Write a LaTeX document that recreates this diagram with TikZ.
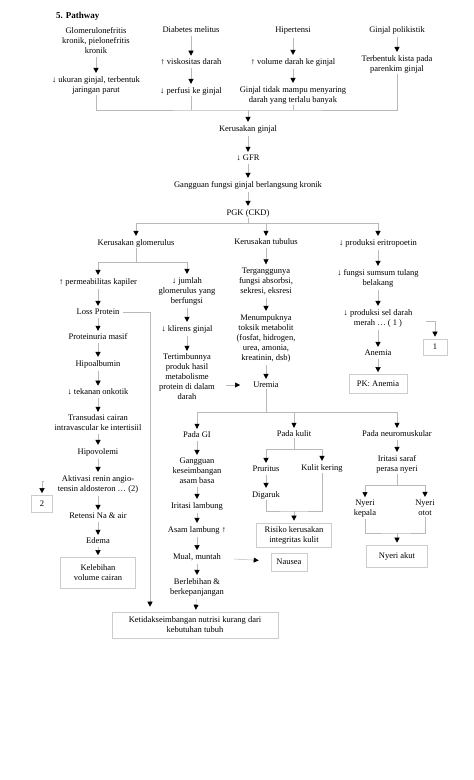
\documentclass[tikz,border=0pt]{standalone}
\usepackage{fontspec}
\setmainfont{Liberation Serif}
\usetikzlibrary{arrows.meta}

\begin{document}
\begin{tikzpicture}[x=1pt,y=-1pt,
  txt/.style={align=center,font=\fontsize{8.5}{10}\selectfont,inner sep=1pt},
  box/.style={txt,draw=gray!40,line width=0.6pt,inner sep=3pt},
  ln/.style={draw=gray!55,line width=0.5pt},
  arr/.style={ln,-{Triangle[length=5pt,width=5pt,color=black]},shorten <=2pt,shorten >=2pt}]
  \useasboundingbox (0,0) rectangle (474,780);
  \node[anchor=west,font=\fontsize{9}{11}\selectfont\bfseries,inner sep=0pt] (title) at (56,16) {5. Pathway};

  % Causes
  \node[txt] (glom) at (96,41) {Glomerulonefritis\\kronik, pielonefritis\\kronik};
  \node[txt] (ukuran) at (96,85) {↓ ukuran ginjal, terbentuk\\jaringan parut};
  \node[txt] (dm) at (191,30) {Diabetes melitus};
  \node[txt] (visk) at (191,62) {↑ viskositas darah};
  \node[txt] (perfusi) at (191,91) {↓ perfusi ke ginjal};
  \node[txt] (ht) at (293,31) {Hipertensi};
  \node[txt] (vol) at (293,62) {↑ volume darah ke ginjal};
  \node[txt] (tidak) at (293,95) {Ginjal tidak mampu menyaring\\darah yang terlalu banyak};
  \node[txt] (pk) at (397,30) {Ginjal polikistik};
  \node[txt] (kista) at (397,64) {Terbentuk kista pada\\parenkim ginjal};
  \coordinate (j1) at (248,110);

  % Main trunk
  \node[txt] (rusak) at (248,129) {Kerusakan ginjal};
  \node[txt] (gfr) at (248,158) {↓ GFR};
  \node[txt] (ggn) at (248,185) {Gangguan fungsi ginjal berlangsung kronik};
  \node[txt] (pgk) at (248,213) {PGK (CKD)};
  \coordinate (j2) at (248,223);
  \node[txt] (glo) at (136,243) {Kerusakan glomerulus};
  \node[txt] (tub) at (266,242) {Kerusakan tubulus};
  \node[txt] (eri) at (378,243) {↓ produksi eritropoetin};

  % Glomerulus
  \coordinate (j3) at (136,262);
  \node[txt] (perm) at (98,282) {↑ permeabilitas kapiler};
  \node[txt] (loss) at (98,312) {Loss Protein};
  \node[txt] (prot) at (98,337) {Proteinuria masif};
  \node[txt] (hipoa) at (98,364) {Hipoalbumin};
  \node[txt] (onk) at (98,392) {↓ tekanan onkotik};
  \node[txt] (trans) at (98,423) {Transudasi cairan\\intravascular ke intertisiil};
  \node[txt] (hipov) at (98,452) {Hipovolemi};
  \node[txt] (akt) at (98,484) {Aktivasi renin angio-\\tensin aldosteron … (2)};
  \node[box,minimum width=21pt,minimum height=17pt] (two) at (42,504) {2};
  \node[txt] (ret) at (98,516) {Retensi Na \& air};
  \node[txt] (edema) at (98,541) {Edema};
  \node[box,minimum width=75pt,minimum height=31pt] (kvc) at (98,573) {Kelebihan\\volume cairan};
  \node[txt] (jml) at (187,291) {↓ jumlah\\glomerulus yang\\berfungsi};
  \node[txt] (klir) at (187,329) {↓ klirens ginjal};
  \node[txt] (tert) at (187,377) {Tertimbunnya\\produk hasil\\metabolisme\\protein di dalam\\darah};

  % Tubulus
  \node[txt] (terg) at (266,281) {Terganggunya\\fungsi absorbsi,\\sekresi, eksresi};
  \node[txt] (menum) at (266,338) {Menumpuknya\\toksik metabolit\\(fosfat, hidrogen,\\urea, amonia,\\kreatinin, dsb)};
  \node[txt] (urem) at (266,385) {Uremia};

  % Eritropoetin
  \node[txt] (sum) at (378,278) {↓ fungsi sumsum tulang\\belakang};
  \node[txt] (sel) at (378,318) {↓ produksi sel darah\\merah … ( 1 )};
  \node[txt] (anem) at (378,353) {Anemia};
  \node[box,minimum width=58pt,minimum height=19pt] (pka) at (378,384) {PK: Anemia};
  \node[box,minimum width=24pt,minimum height=16pt] (one) at (435,347) {1};

  % Uremia
  \coordinate (j4) at (266,412);
  \node[txt] (gi) at (197,435) {Pada GI};
  \node[txt] (kulit) at (294,434) {Pada kulit};
  \node[txt] (neuro) at (397,434) {Pada neuromuskular};
  \node[txt] (gkab) at (197,471) {Gangguan\\keseimbangan\\asam basa};
  \node[txt] (iri) at (197,506) {Iritasi lambung};
  \node[txt] (asam) at (197,530) {Asam lambung ↑};
  \node[txt] (mual) at (197,557) {Mual, muntah};
  \node[txt] (berl) at (197,587) {Berlebihan \&\\berkepanjangan};
  \node[box,minimum width=166pt,minimum height=26pt] (ket) at (195,625) {Ketidakseimbangan nutrisi kurang dari\\kebutuhan tubuh};
  \node[box,minimum width=36pt,minimum height=18pt] (nausea) at (289,562) {Nausea};
  \coordinate (j5) at (294,449);
  \node[txt] (prur) at (266,469) {Pruritus};
  \node[txt] (kk) at (322,468) {Kulit kering};
  \node[txt] (dig) at (266,495) {Digaruk};
  \coordinate (j6) at (294,511);
  \node[box,minimum width=75pt,minimum height=24pt] (risiko) at (294,535) {Risiko kerusakan\\integritas kulit};
  \node[txt] (iris) at (397,464) {Iritasi saraf\\perasa nyeri};
  \coordinate (j7) at (397,485);
  \node[txt] (kep) at (365,509) {Nyeri\\kepala};
  \node[txt] (otot) at (425,508) {Nyeri\\otot};
  \coordinate (j8) at (397,533);
  \node[box,minimum width=61pt,minimum height=22pt] (akut) at (397,556) {Nyeri akut};

  % Straight arrows
  \foreach \a/\b in {glom/ukuran,dm/visk,visk/perfusi,ht/vol,vol/tidak,pk/kista,
      rusak/gfr,gfr/ggn,ggn/pgk,perm/loss,loss/prot,prot/hipoa,hipoa/onk,onk/trans,
      trans/hipov,hipov/akt,akt/ret,ret/edema,edema/kvc,jml/klir,klir/tert,
      tub/terg,terg/menum,menum/urem,eri/sum,sum/sel,sel/anem,anem/pka,
      gi/gkab,gkab/iri,iri/asam,asam/mual,mual/berl,berl/ket,prur/dig,neuro/iris}
    \draw[arr] (\a) -- (\b);

  % Joins and branches
  \draw[ln] (ukuran) |- (j1) -| (kista);
  \draw[ln] (perfusi) -- (perfusi |- j1);
  \draw[ln] (tidak) -- (tidak |- j1);
  \draw[arr,shorten <=0pt] (j1) -- (rusak);
  \draw[ln] (pgk) -- (j2);
  \draw[ln] (glo |- j2) -- (eri |- j2);
  \foreach \n in {glo,tub,eri} \draw[arr,shorten <=0pt] (\n |- j2) -- (\n);
  \draw[ln] (glo) -- (j3);
  \draw[ln] (perm |- j3) -- (jml |- j3);
  \foreach \n in {perm,jml} \draw[arr,shorten <=0pt] (\n |- j3) -- (\n);
  \draw[ln] (urem) -- (j4);
  \draw[ln] (gi |- j4) -- (neuro |- j4);
  \foreach \n in {gi,kulit,neuro} \draw[arr,shorten <=0pt] (\n |- j4) -- (\n);
  \draw[ln] (kulit) -- (j5);
  \draw[ln] (prur |- j5) -- (kk |- j5);
  \foreach \n in {prur,kk} \draw[arr,shorten <=0pt] (\n |- j5) -- (\n);
  \draw[ln] (dig) |- (j6) -| (kk);
  \draw[arr,shorten <=0pt] (j6) -- (risiko);
  \draw[ln] (iris) -- (j7);
  \draw[ln] (kep |- j7) -- (otot |- j7);
  \foreach \n in {kep,otot} \draw[arr,shorten <=0pt] (\n |- j7) -- (\n);
  \draw[ln] (kep) |- (j8) -| (otot);
  \draw[arr,shorten <=0pt] (j8) -- (akut);

  % Side links
  \draw[arr,shorten >=5pt] (loss) -| (ket.north -| 150,0);
  \draw[arr,shorten <=10pt,shorten >=12pt] (tert.east |- urem) -- (urem);
  \draw[arr,shorten <=12pt,shorten >=12pt] (mual) -- (nausea);
  \draw[arr,shorten <=0pt] ([xshift=-13pt,yshift=3pt]akt.west) -| (two);
  \draw[arr,shorten <=0pt] ([xshift=12pt,yshift=-3pt]sel.east) -| (one);
\end{tikzpicture}
\end{document}
